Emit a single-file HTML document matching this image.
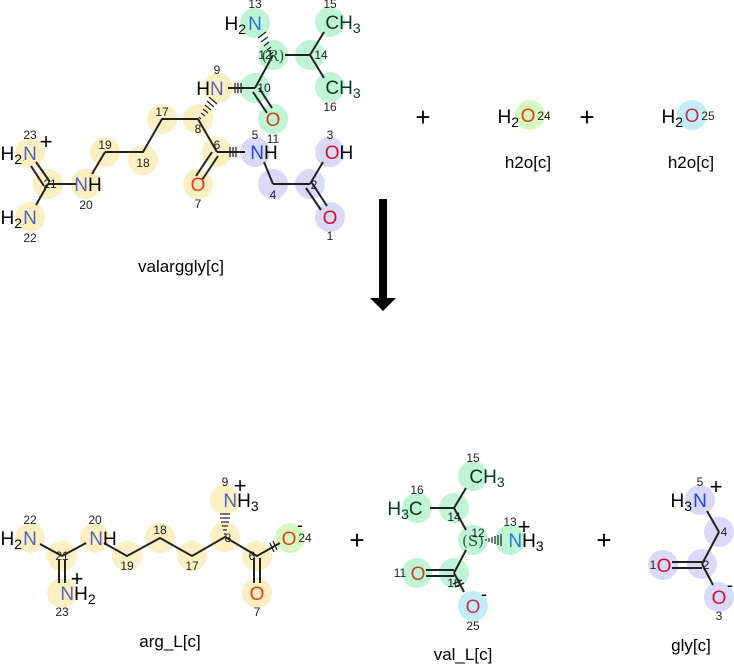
<!DOCTYPE html>
<html><head><meta charset="utf-8"><style>
html,body{margin:0;padding:0;background:#fff;}
svg{display:block;}
text{font-family:"Liberation Sans","DejaVu Sans",sans-serif;}
.a{font-size:19px;text-anchor:middle;}
.n{font-size:12px;text-anchor:middle;fill:#222;}
.s{font-size:14px;}
.lab{font-size:17px;text-anchor:middle;fill:#000;}
.b{stroke:#222;stroke-width:2;fill:none;}
</style></head><body>
<svg width="734" height="664" viewBox="0 0 734 664" xmlns="http://www.w3.org/2000/svg">
<g fill="#fcefc2">
<circle cx="30" cy="153" r="15"/><circle cx="48" cy="184" r="15"/><circle cx="86" cy="184" r="15"/>
<circle cx="30" cy="217" r="15"/><circle cx="105" cy="152" r="15"/><circle cx="143" cy="160" r="15"/>
<circle cx="162" cy="119" r="15"/><circle cx="198" cy="119" r="15"/><circle cx="218" cy="88" r="15"/>
<circle cx="217" cy="152" r="15"/><circle cx="198" cy="184" r="15"/>
<circle cx="30" cy="538" r="15"/><circle cx="62" cy="556" r="15"/><circle cx="95" cy="538" r="15"/>
<circle cx="127" cy="556" r="15"/><circle cx="160" cy="538" r="15"/><circle cx="192" cy="556" r="15"/>
<circle cx="225" cy="537" r="15"/><circle cx="225" cy="500" r="15"/><circle cx="257" cy="556" r="15"/>
<circle cx="257" cy="593" r="15"/><circle cx="62" cy="593" r="15"/>
</g>
<g fill="#bff5d5">
<circle cx="255" cy="23" r="15"/><circle cx="273" cy="55" r="15"/><circle cx="310" cy="55" r="15"/>
<circle cx="330" cy="22" r="15"/><circle cx="330" cy="87" r="15"/><circle cx="255" cy="88" r="15"/>
<circle cx="273" cy="119" r="15"/>
<circle cx="473" cy="476" r="15"/><circle cx="417" cy="508" r="15"/><circle cx="454" cy="508" r="15"/>
<circle cx="473" cy="540" r="15"/><circle cx="510" cy="540" r="15"/><circle cx="454" cy="573" r="15"/>
<circle cx="417" cy="573" r="15"/>
</g>
<g fill="#d9d9f8">
<circle cx="255" cy="152" r="15"/><circle cx="273" cy="184" r="15"/><circle cx="310" cy="184" r="15"/>
<circle cx="330" cy="152" r="15"/><circle cx="330" cy="217" r="15"/>
<circle cx="700" cy="500" r="15"/><circle cx="719" cy="532" r="15"/><circle cx="702" cy="564" r="15"/>
<circle cx="663" cy="565" r="15"/><circle cx="719" cy="597" r="15"/>
</g>
<circle cx="530" cy="115" r="15" fill="#d8f8c2"/>
<circle cx="290" cy="538" r="15" fill="#d8f8c2"/>
<circle cx="692" cy="115" r="15" fill="#c2eefa"/>
<circle cx="473" cy="606" r="15" fill="#c2eefa"/>

<g class="b">
<line x1="36" y1="162" x2="50" y2="182"/><line x1="31" y1="166" x2="44" y2="186"/>
<line x1="48" y1="184" x2="77" y2="184"/>
<line x1="48" y1="184" x2="36" y2="205"/>
<line x1="92" y1="174" x2="105" y2="152"/>
<polyline points="105,152 143,152 162,119 198,119 217,152"/>
<line x1="212" y1="152" x2="196" y2="176"/><line x1="218" y1="156" x2="202" y2="180"/>
<line x1="217" y1="152" x2="245" y2="152"/>
<line x1="264" y1="162" x2="273" y2="184"/><line x1="273" y1="184" x2="310" y2="184"/>
<line x1="310" y1="184" x2="323" y2="162"/>
<line x1="306" y1="188" x2="321" y2="210"/><line x1="312" y1="183" x2="327" y2="206"/>
<line x1="228" y1="88" x2="255" y2="88"/>
<line x1="255" y1="88" x2="273" y2="55"/>
<line x1="253" y1="92" x2="267" y2="113"/><line x1="259" y1="88" x2="272" y2="108"/>
<line x1="285" y1="55" x2="310" y2="55"/>
<polyline points="324,32 310,55 324,78"/>
</g>
<g stroke="#222" stroke-width="1.3">
<line x1="230" y1="147" x2="230" y2="157"/><line x1="233" y1="147" x2="233" y2="157"/><line x1="236" y1="147" x2="236" y2="157"/>
<line x1="235" y1="83" x2="235" y2="93"/><line x1="238" y1="83" x2="238" y2="93"/><line x1="241" y1="83" x2="241" y2="93"/>
</g>
<g stroke="#222" stroke-width="1.2">
<line x1="199" y1="117" x2="201" y2="119"/><line x1="201" y1="113" x2="205" y2="116"/><line x1="203" y1="109" x2="208" y2="113"/>
<line x1="205" y1="105" x2="211" y2="110"/><line x1="207" y1="101" x2="214" y2="107"/><line x1="209" y1="97" x2="217" y2="104"/>
<line x1="271" y1="54" x2="273" y2="52"/><line x1="267" y1="50" x2="271" y2="47"/><line x1="264" y1="46" x2="269" y2="42"/>
<line x1="261" y1="42" x2="268" y2="37"/><line x1="258" y1="38" x2="266" y2="32"/>
</g>

<g class="b">
<line x1="40" y1="544" x2="62" y2="556"/><line x1="62" y1="556" x2="86" y2="543"/>
<line x1="59" y1="560" x2="59" y2="583"/><line x1="65" y1="560" x2="65" y2="583"/>
<polyline points="104,543 127,556 160,538 192,556 225,537 257,556 280,543"/>
<line x1="254" y1="558" x2="254" y2="583"/><line x1="260" y1="558" x2="260" y2="583"/>
</g>
<g stroke="#222" stroke-width="1.3">
<line x1="270" y1="543" x2="274" y2="552"/><line x1="273" y1="541" x2="277" y2="550"/>
</g>
<g stroke="#222" stroke-width="1.2">
<line x1="224" y1="534" x2="226" y2="534"/><line x1="223" y1="530" x2="227" y2="530"/><line x1="222" y1="526" x2="228" y2="526"/>
<line x1="221" y1="522" x2="229" y2="522"/><line x1="220" y1="518" x2="230" y2="518"/><line x1="220" y1="514" x2="230" y2="514"/>
</g>
<g class="b">
<line x1="466" y1="488" x2="454" y2="508"/><line x1="430" y1="508" x2="454" y2="508"/>
<line x1="454" y1="508" x2="466" y2="530"/>
<line x1="466" y1="550" x2="454" y2="573"/>
<line x1="426" y1="570" x2="454" y2="570"/><line x1="426" y1="576" x2="454" y2="576"/>
<line x1="454" y1="573" x2="464" y2="592"/>
</g>
<g stroke="#222" stroke-width="1.3">
<line x1="453" y1="584" x2="462" y2="580"/><line x1="455" y1="587" x2="464" y2="583"/>
</g>
<g stroke="#222" stroke-width="1.2">
<line x1="486" y1="539" x2="486" y2="541"/><line x1="489" y1="538" x2="489" y2="542"/><line x1="492" y1="537" x2="492" y2="543"/>
<line x1="495" y1="536" x2="495" y2="544"/><line x1="498" y1="535" x2="498" y2="545"/><line x1="501" y1="534" x2="501" y2="546"/>
</g>
<g class="b">
<line x1="707" y1="511" x2="719" y2="532"/><line x1="719" y1="532" x2="702" y2="564"/>
<line x1="672" y1="562" x2="702" y2="562"/><line x1="672" y1="568" x2="702" y2="568"/>
<line x1="702" y1="564" x2="713" y2="585"/>
</g>

<g class="a">
<text x="22" y="160" fill="#000" style="text-anchor:end">H<tspan class="s" dy="4">2</tspan></text>
<text x="30" y="160" fill="#5566b8">N</text><text x="46" y="149" fill="#000" style="font-size:22px">+</text>
<text x="22" y="224" fill="#000" style="text-anchor:end">H<tspan class="s" dy="4">2</tspan></text>
<text x="30" y="224" fill="#5566b8">N</text>
<text x="88" y="191" fill="#5566b8">N<tspan fill="#000">H</tspan></text>
<text x="210" y="95" fill="#000">H<tspan fill="#5566b8">N</tspan></text>
<text x="198" y="191" fill="#f03c10">O</text>
<text x="264" y="159" fill="#2244ee">N<tspan fill="#000">H</tspan></text>
<text x="339" y="159" fill="#d9102f">O<tspan fill="#000">H</tspan></text>
<text x="330" y="224" fill="#d9102f">O</text>
<text x="273" y="126" fill="#c84020">O</text>
<text x="246" y="30" fill="#000" style="text-anchor:end">H<tspan class="s" dy="4">2</tspan></text>
<text x="255" y="30" fill="#2277dd">N</text>
<text x="273" y="61" fill="#205a35" style="font-family:'DejaVu Serif','Liberation Serif',serif;font-size:15px">(R)</text>
<text x="343" y="29" fill="#0a3a1f">CH<tspan class="s" dy="4">3</tspan></text>
<text x="343" y="94" fill="#0a3a1f">CH<tspan class="s" dy="4">3</tspan></text>
</g>
<g class="n">
<text x="30" y="139">23</text><text x="50" y="188">21</text><text x="86" y="209">20</text><text x="30" y="242">22</text>
<text x="105" y="149">19</text><text x="143" y="167">18</text><text x="162" y="116">17</text><text x="198" y="133">8</text>
<text x="217" y="74">9</text><text x="217" y="149">6</text><text x="198" y="208">7</text><text x="255" y="139">5</text>
<text x="273" y="199">4</text><text x="314" y="189">2</text><text x="330" y="139">3</text><text x="330" y="240">1</text>
<text x="273" y="143">11</text><text x="264" y="92">10</text><text x="265" y="59">12</text><text x="321" y="59">14</text>
<text x="255" y="8">13</text><text x="330" y="8">15</text><text x="330" y="111">16</text>
</g>

<text x="423" y="126" class="a" fill="#000" style="font-size:26px">+</text>
<text x="587" y="126" class="a" fill="#000" style="font-size:26px">+</text>
<text x="519" y="123" class="a" fill="#000" style="text-anchor:end">H<tspan class="s" dy="4">2</tspan></text>
<text x="528" y="122" class="a" fill="#e04010">O</text><text x="544" y="120" class="n">24</text>
<text x="683" y="123" class="a" fill="#000" style="text-anchor:end">H<tspan class="s" dy="4">2</tspan></text>
<text x="692" y="122" class="a" fill="#c83048">O</text><text x="708" y="120" class="n">25</text>
<text x="528" y="168" class="lab">h2o[c]</text>
<text x="691" y="168" class="lab">h2o[c]</text>
<text x="181" y="272" class="lab">valarggly[c]</text>

<rect x="379" y="199" width="8" height="100" fill="#000"/>
<polygon points="370,298 396,298 383,311" fill="#000"/>

<g class="a">
<text x="22" y="545" fill="#000" style="text-anchor:end">H<tspan class="s" dy="4">2</tspan></text>
<text x="30" y="545" fill="#5566b8">N</text>
<text x="103" y="545" fill="#5566b8">N<tspan fill="#000">H</tspan></text>
<text x="78" y="600" fill="#5566b8">N<tspan fill="#000">H<tspan class="s" dy="4">2</tspan></tspan></text>
<text x="77" y="586" fill="#000" style="font-size:22px">+</text>
<text x="241" y="507" fill="#5566b8">N<tspan fill="#000">H<tspan class="s" dy="4">3</tspan></tspan></text>
<text x="240" y="493" fill="#000" style="font-size:22px">+</text>
<text x="289" y="545" fill="#e04010">O</text><text x="300" y="531" fill="#000" style="font-size:18px">-</text>
<text x="257" y="600" fill="#f03c10">O</text>
</g>
<g class="n">
<text x="30" y="524">22</text><text x="62" y="560">21</text><text x="62" y="616">23</text><text x="95" y="524">20</text>
<text x="127" y="570">19</text><text x="160" y="534">18</text><text x="192" y="570">17</text><text x="228" y="542">8</text>
<text x="225" y="486">9</text><text x="252" y="560">6</text><text x="257" y="616">7</text><text x="305" y="542">24</text>
</g>
<text x="357" y="549" class="a" fill="#000" style="font-size:26px">+</text>
<text x="170" y="647" class="lab">arg_L[c]</text>

<g class="a">
<text x="487" y="483" fill="#0a3a1f">CH<tspan class="s" dy="4">3</tspan></text>
<text x="405" y="515" fill="#0a3a1f">H<tspan class="s" dy="4">3</tspan><tspan dy="-4">C</tspan></text>
<text x="473" y="546" fill="#205a35" style="font-family:'DejaVu Serif','Liberation Serif',serif;font-size:15px">(S)</text>
<text x="526" y="547" fill="#2277dd">N<tspan fill="#000">H<tspan class="s" dy="4">3</tspan></tspan></text>
<text x="524" y="534" fill="#000" style="font-size:22px">+</text>
<text x="418" y="580" fill="#c84020">O</text>
<text x="473" y="613" fill="#c83048">O</text><text x="484" y="600" fill="#000" style="font-size:18px">-</text>
</g>
<g class="n">
<text x="473" y="462">15</text><text x="417" y="494">16</text><text x="454" y="521">14</text><text x="478" y="537">12</text>
<text x="510" y="526">13</text><text x="454" y="587">10</text><text x="400" y="577">11</text><text x="473" y="630">25</text>
</g>
<text x="604" y="549" class="a" fill="#000" style="font-size:26px">+</text>
<text x="463" y="660" class="lab">val_L[c]</text>

<g class="a">
<text x="692" y="507" fill="#000" style="text-anchor:end">H<tspan class="s" dy="4">3</tspan></text>
<text x="700" y="507" fill="#2244ee">N</text><text x="716" y="494" fill="#000" style="font-size:22px">+</text>
<text x="664" y="572" fill="#d9102f">O</text>
<text x="719" y="604" fill="#d9102f">O</text><text x="730" y="591" fill="#000" style="font-size:18px">-</text>
</g>
<g class="n">
<text x="700" y="486">5</text><text x="724" y="536">4</text><text x="706" y="569">2</text><text x="653" y="569">1</text><text x="719" y="620">3</text>
</g>
<text x="691" y="651" class="lab">gly[c]</text>
</svg>
</body></html>
